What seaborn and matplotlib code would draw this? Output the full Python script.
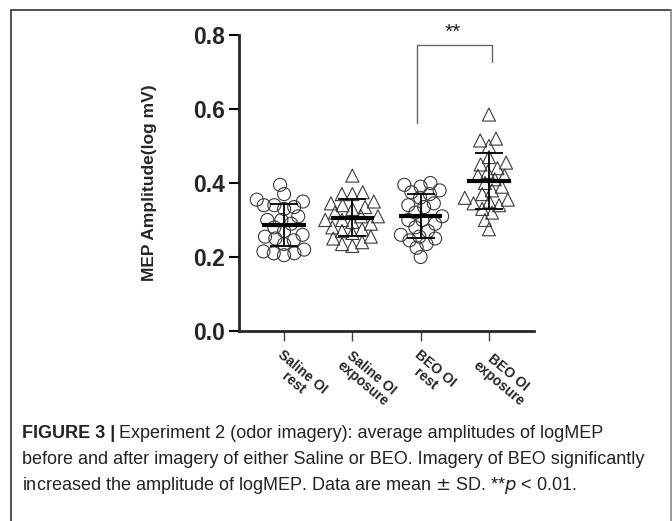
import numpy as np
import pandas as pd
import matplotlib
matplotlib.use('Agg')
import matplotlib.pyplot as plt
import matplotlib.transforms as mtransforms
import seaborn as sns

# Data (log mV)
conditions = ['Saline OI\nrest', 'Saline OI\nexposure', 'BEO OI\nrest', 'BEO OI\nexposure']
markers = ['o', '^', 'o', '^']

saline_rest = [0.395, 0.37, 0.355, 0.35, 0.34, 0.34, 0.335, 0.33, 0.31, 0.30,
               0.30, 0.29, 0.28, 0.27, 0.26, 0.255, 0.25, 0.245, 0.235, 0.22,
               0.215, 0.21, 0.21, 0.205]
saline_exposure = [0.42, 0.375, 0.37, 0.37, 0.35, 0.345, 0.34, 0.335, 0.33, 0.32,
                   0.31, 0.31, 0.30, 0.30, 0.295, 0.29, 0.28, 0.275, 0.27, 0.265,
                   0.255, 0.25, 0.24, 0.235, 0.23]
beo_rest = [0.40, 0.395, 0.39, 0.38, 0.375, 0.37, 0.36, 0.345, 0.34, 0.335,
            0.32, 0.31, 0.30, 0.30, 0.29, 0.28, 0.27, 0.26, 0.255, 0.25,
            0.245, 0.235, 0.225, 0.20]
beo_exposure = [0.585, 0.52, 0.515, 0.50, 0.47, 0.455, 0.45, 0.44, 0.43, 0.42,
                0.42, 0.41, 0.40, 0.39, 0.38, 0.37, 0.36, 0.355, 0.35, 0.345,
                0.34, 0.33, 0.32, 0.30, 0.275]

groups = [saline_rest, saline_exposure, beo_rest, beo_exposure]

rows = []
for cond, mk, vals in zip(conditions, markers, groups):
    for v in vals:
        rows.append({'condition': cond, 'value': v, 'marker': mk})
df = pd.DataFrame(rows)

sns.set_style('ticks')
plt.rcParams['font.family'] = ['Liberation Sans', 'DejaVu Sans']

fig = plt.figure(figsize=(6.72, 5.21), dpi=100)
ax = fig.add_axes([239 / 672, 1 - 331 / 521, 295 / 672, 296 / 521])

# points, one call per marker shape; swarm laid out with small markers,
# then enlarged so they overlap like the original scatter
for mk in ['o', '^']:
    sns.swarmplot(data=df[df['marker'] == mk], x='condition', y='value',
                  order=conditions, marker=mk, size=6.4, color='white',
                  edgecolor='#3a3a3a', linewidth=0.8, ax=ax, zorder=2)

ax.set_xlim(-0.66, 3.66)
ax.set_ylim(0, 0.8)
fig.canvas.draw()  # runs the swarm layout
for c in ax.collections:
    if 'draw' in c.__dict__:
        del c.draw  # keep the laid-out positions
    c.set_facecolor('none')
    c.set_sizes([88])

# mean and SD
means = [np.mean(g) for g in groups]
sds = [np.std(g, ddof=1) for g in groups]
xpos = np.arange(len(conditions))
ax.hlines(means, xpos - 0.32, xpos + 0.32, color='black', lw=3, zorder=4)
ax.errorbar(xpos, means, yerr=sds, fmt='none', ecolor='black',
            elinewidth=1.3, capsize=10, capthick=1.3, zorder=4)

# significance bracket
ax.plot([2 - 0.06, 2 - 0.06, 3.04, 3.04], [0.562, 0.773, 0.773, 0.727],
        color='#666666', lw=1, clip_on=False)
ax.text(2.47, 0.782, '**', ha='center', va='bottom', fontsize=15,
        color='#222222')

ax.set_xlim(-0.66, 3.66)
ax.set_ylim(0, 0.8)
ax.set_yticks([0.0, 0.2, 0.4, 0.6, 0.8])
ax.set_yticklabels(['0.0', '0.2', '0.4', '0.6', '0.8'], fontsize=16.5,
                   fontweight='bold')
ax.set_xticks(xpos)
ax.set_xticklabels(conditions, rotation=-40, ha='left', va='top',
                   rotation_mode='anchor', fontsize=10, fontweight='bold',
                   multialignment='center', linespacing=1.0)
shift = mtransforms.ScaledTranslation(-0.12, 0.0, fig.dpi_scale_trans)
for lbl in ax.get_xticklabels():
    lbl.set_transform(lbl.get_transform() + shift)
ax.tick_params(axis='x', length=7, width=1, color='#444444', pad=5)
ax.tick_params(axis='y', length=7, width=1.5, color='black', pad=3)
ax.set_xlabel('')
ax.set_ylabel('MEP Amplitude(log mV)', fontsize=12.5, fontweight='bold',
              labelpad=26)
for s in ['top', 'right']:
    ax.spines[s].set_visible(False)
ax.spines['left'].set_linewidth(2)
ax.spines['bottom'].set_linewidth(2)

# frame around figure
fig.add_artist(plt.Line2D([11 / 672, 671 / 672], [1 - 10 / 521, 1 - 10 / 521],
                          color='#333333', lw=1.2))
fig.add_artist(plt.Line2D([11 / 672, 11 / 672], [0, 1 - 10 / 521],
                          color='#333333', lw=1.2))
fig.add_artist(plt.Line2D([671 / 672, 671 / 672], [0, 1 - 10 / 521],
                          color='#888888', lw=1.2))

# caption
cap_x = 22 / 672
cap_fs = 13.0
t = fig.text(cap_x, 1 - 433 / 521, 'FIGURE 3 |', fontsize=cap_fs,
             fontweight='bold', va='center', color='#222222')
fig.canvas.draw()
bb = t.get_window_extent()
fig.text(bb.x1 / fig.bbox.width + 4 / 672, 1 - 433 / 521,
         'Experiment 2 (odor imagery): average amplitudes of logMEP',
         fontsize=cap_fs, va='center', color='#222222')
fig.text(cap_x, 1 - 460 / 521,
         'before and after imagery of either Saline or BEO. Imagery of BEO significantly',
         fontsize=cap_fs, va='center', color='#222222')
fig.text(cap_x, 1 - 486 / 521,
         r'increased the amplitude of logMEP. Data are mean $\pm$ SD. **$p$ < 0.01.',
         fontsize=cap_fs, va='center', color='#222222')

fig.savefig('out.png', dpi=100)
